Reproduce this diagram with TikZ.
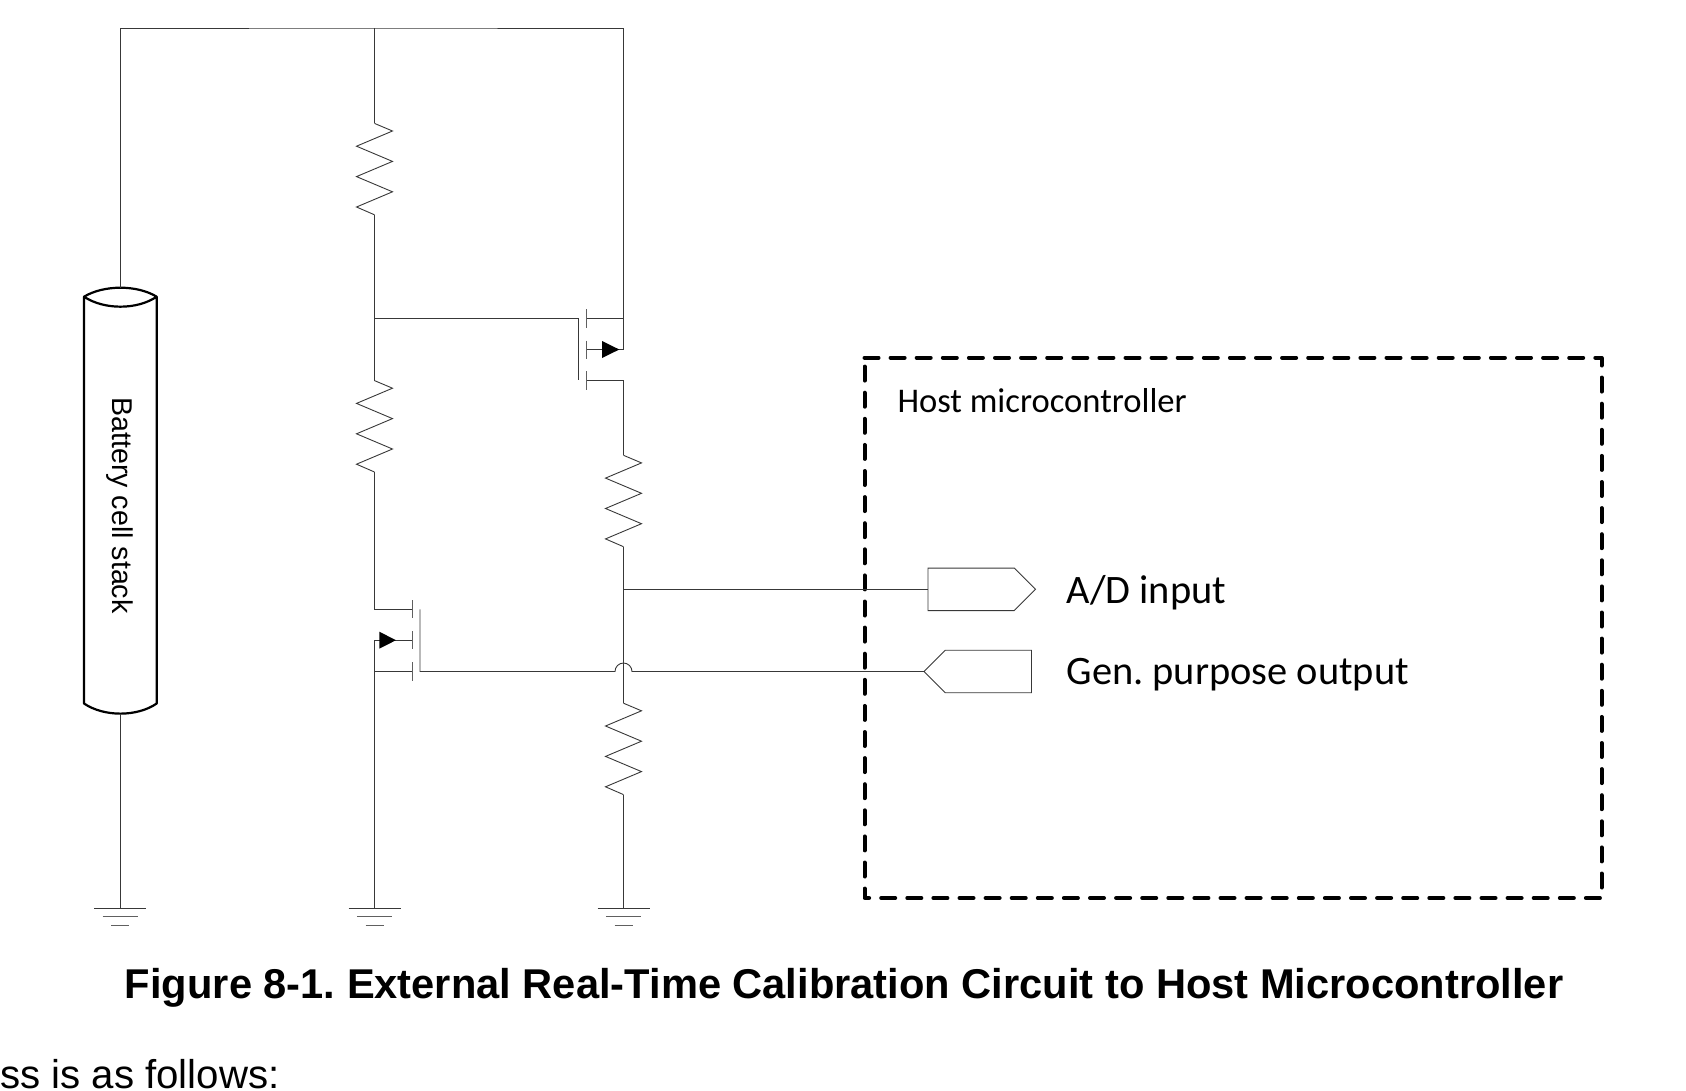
\documentclass[tikz,border=0pt]{standalone}
\usepackage{fontspec}
\setmainfont{Liberation Sans}
\newfontfamily\calfont{Carlito}
\usetikzlibrary{shapes.symbols}
\definecolor{wire}{HTML}{383838}
\tikzset{
  wireline/.style={draw=wire,line width=0.9pt},
  stub/.style={draw=wire!80,line width=1pt},
  batterybody/.style={draw=black,line width=2.2pt,line join=round},
  hostbox/.style={draw=black,line width=4pt,line cap=round,line join=round,dash pattern=on 14pt off 12.1pt},
  tagshape/.style={draw=wire,line width=0.9pt,signal,signal pointer angle=90,minimum width=107.5pt,minimum height=42.5pt,inner sep=0pt,outer sep=0pt},
  calabel/.style={font=\calfont\fontsize{40.4}{44}\selectfont,anchor=base west,inner sep=0pt,text=black},
  pics/zigzag/.style={code={
    \draw[wireline] (0,0) -- (18,7.6) -- (-18,22.8) -- (18,38) -- (-18,53.2) -- (18,68.4) -- (-18,83.6) -- (0,91.4);
  }},
  pics/groundsym/.style={code={
    \draw[wireline] (-26,0) -- (26,0);
    \draw[stub] (-17.7,8.7) -- (17.7,8.7);
    \draw[stub] (-9,17.4) -- (9,17.4);
  }},
}
\begin{document}
\frenchspacing
\begin{tikzpicture}[x=1pt,y=-1pt]
\useasboundingbox (0,0) rectangle (1686,1090);
% named points
\coordinate (topL) at (120.4,28);
\coordinate (topM) at (374.5,28);
\coordinate (topR) at (623.5,28);
\coordinate (batTop) at (120.4,287.7);
\coordinate (batBot) at (120.4,713.6);
\coordinate (gndA) at (120.4,908.2);
\coordinate (gndB) at (374.5,908.2);
\coordinate (gndC) at (623.5,908.2);
\coordinate (r1a) at (374.5,123.4);
\coordinate (r1b) at (374.5,214.8);
\coordinate (r2a) at (374.5,380.6);
\coordinate (r2b) at (374.5,472);
\coordinate (r3a) at (623.5,455.3);
\coordinate (r3b) at (623.5,546.7);
\coordinate (r4a) at (623.5,703.2);
\coordinate (r4b) at (623.5,794.6);
\coordinate (jHi) at (374.5,318.3);
\coordinate (jAD) at (623.5,589);
% upper MOSFET
\coordinate (uG) at (578.3,318.3);
\coordinate (uGb) at (578.3,380.3);
\coordinate (uC) at (586,318.3);
\coordinate (uM) at (586,349.3);
\coordinate (uD) at (586,380.3);
\coordinate (uCr) at (623.5,318.3);
\coordinate (uMr) at (623.5,349.3);
\coordinate (uDr) at (623.5,380.3);
% lower MOSFET
\coordinate (lC) at (412.3,609.3);
\coordinate (lM) at (412.3,640.3);
\coordinate (lD) at (412.3,671.5);
\coordinate (lCl) at (374.5,609.3);
\coordinate (lMl) at (374.5,640.3);
\coordinate (lDl) at (374.5,671.5);
\coordinate (lG) at (420,671.5);
\coordinate (lGt) at (420,609.3);
\coordinate (hopL) at (615,671.5);
% battery
\path[batterybody] (84,296.7) .. controls (104,284.7) and (137,284.7) .. (156.7,296.7)
  .. controls (137,310) and (104,310) .. (84,296.7)
  -- (84,703.5) .. controls (104,717) and (137,717) .. (156.7,703.5) -- (156.7,296.7);
\node[rotate=-90,inner sep=0pt,font=\fontsize{28.6}{32}\selectfont] (batlabel) at (119.5,505.5) {Battery cell stack};
% host box
\coordinate (hostTL) at (864.5,357.7);
\coordinate (hostTR) at (1601.5,357.7);
\coordinate (hostBR) at (1601.5,898);
\coordinate (hostBL) at (864.5,898);
\draw[hostbox] (hostTL) -- (hostTR) -- (hostBR) -- (hostBL) -- cycle;
\node[font=\calfont\fontsize{34.6}{38}\selectfont,anchor=base west,inner sep=0pt] (hostlabel) at (897.3,412.5) {Host microcontroller};
% port tags
\node[tagshape,signal to=east,anchor=west] (ad) at (928,589.3) {};
\node[tagshape,signal to=west,anchor=east] (gp) at (1031.5,671.5) {};
\node[calabel] (adlabel) at (1066.4,603) {A/D input};
\node[calabel] (gplabel) at (1066.4,684.5) {Gen. purpose output};
% resistors
\pic at (r1a) {zigzag};
\pic at (r2a) {zigzag};
\pic at (r3a) {zigzag};
\pic at (r4a) {zigzag};
% grounds
\pic at (gndA) {groundsym};
\pic at (gndB) {groundsym};
\pic at (gndC) {groundsym};
% wires
\draw[wireline] (batTop) -- (topL) -- (topM) -- (topR) -- (uCr) -- (uMr);
\draw[wireline] (batBot) -- (gndA);
\draw[wireline] (topM) -- (r1a);
\draw[wireline] (r1b) -- (r2a);
\draw[wireline] (jHi) -- (uG) -- (uGb);
\draw[wireline] (uC) -- (uCr);
\draw[wireline] (uM) -- (uMr);
\draw[wireline] (uD) -- (uDr) -- (r3a);
\draw[wireline] (r3b) -- (r4a);
\draw[wireline] (r4b) -- (gndC);
\draw[wireline] (jAD |- ad.west) -- (ad.west);
\draw[wireline] (r2b) -- (lCl) -- (lC);
\draw[wireline] (lMl) -- (lM);
\draw[wireline] (lMl) -- (gndB);
\draw[wireline] (lDl) -- (lD);
\draw[wireline] (lGt) -- (lG) -- (hopL) arc[start angle=180,end angle=0,radius=8.5pt] -- (gp.west);
% channel stubs
\draw[stub] (586,309.3) -- (586,327.7);
\draw[stub] (586,340.7) -- (586,358.7);
\draw[stub] (586,371.3) -- (586,390);
\draw[stub] (412.3,600) -- (412.3,618.3);
\draw[stub] (412.3,631) -- (412.3,649.3);
\draw[stub] (412.3,662.3) -- (412.3,680.6);
% arrows
\fill[black] (602,341) -- (619.3,349.5) -- (602,358) -- cycle;
\fill[black] (379.3,631.7) -- (396,640.2) -- (379.3,648.7) -- cycle;
% caption
\node[font=\bfseries\fontsize{41.64}{46}\selectfont,anchor=base west,inner sep=0pt] (caption) at (124.7,998) {Figure 8-1. External Real-Time Calibration Circuit to Host Microcontroller};
\node[font=\fontsize{40.2}{44}\selectfont,anchor=base west,inner sep=0pt] (para) at (0,1088) {ss is as follows:};
\end{tikzpicture}
\end{document}
